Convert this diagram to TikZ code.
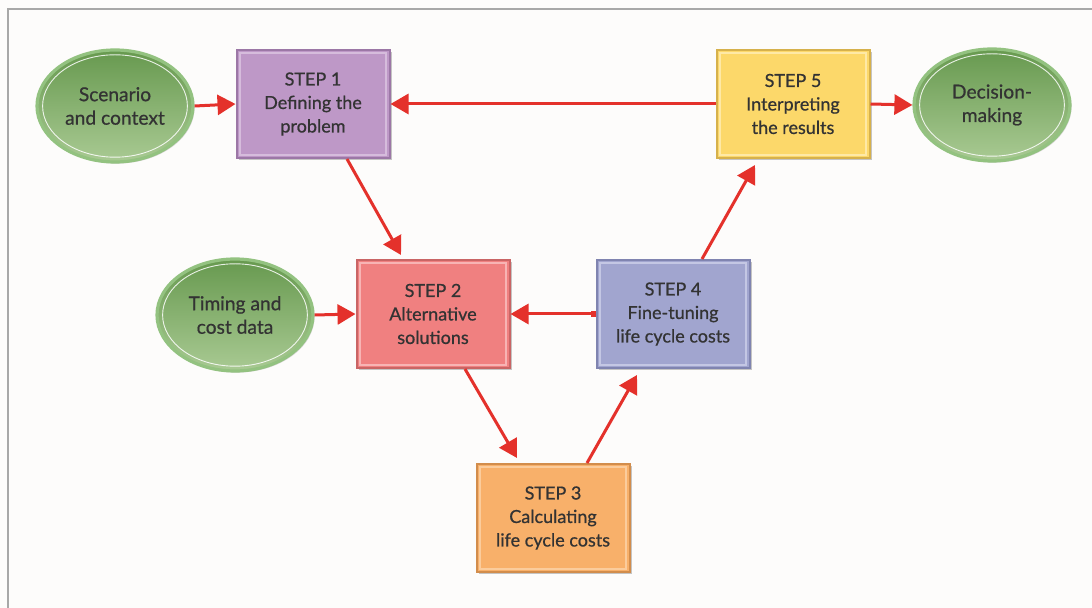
\documentclass[tikz,border=0pt]{standalone}
\usepackage{fontspec}
\setmainfont{Lato}
\newfontfamily\labelfont{Lato}[FakeBold=0.7]
\usetikzlibrary{arrows.meta,shadows,shapes.geometric}

\definecolor{paper}{HTML}{FDFCFB}
\definecolor{framegrey}{HTML}{A8A8A8}
\definecolor{textgrey}{HTML}{333333}
\definecolor{arrowred}{HTML}{E4312B}
% step box colours: fill, outer edge, inner highlight
\definecolor{purpfill}{HTML}{BE98C7}
\definecolor{purpedge}{HTML}{9C77A6}
\definecolor{purplite}{HTML}{D6BCDC}
\definecolor{yelfill}{HTML}{FCD86A}
\definecolor{yeledge}{HTML}{D6B14C}
\definecolor{yellite}{HTML}{FEE9A6}
\definecolor{redfill}{HTML}{F08080}
\definecolor{rededge}{HTML}{C96565}
\definecolor{redlite}{HTML}{F8B4B4}
\definecolor{bluefill}{HTML}{A1A5CF}
\definecolor{blueedge}{HTML}{8084B0}
\definecolor{bluelite}{HTML}{C4C7E4}
\definecolor{orgfill}{HTML}{F8B06A}
\definecolor{orgedge}{HTML}{D28D4C}
\definecolor{orglite}{HTML}{FBCC9C}
% oval colours
\definecolor{ovaltop}{HTML}{67994F}
\definecolor{ovalbot}{HTML}{A9CA93}
\definecolor{ovalrim}{HTML}{93C280}

\tikzset{
  labeltext/.style={align=center, text=textgrey},
  stepbox/.style n args={3}{rectangle, labeltext,
    font=\labelfont\fontsize{9pt}{11.75pt}\selectfont,
    execute at begin node={\rule{0pt}{11pt}},
    minimum width=76.5pt, minimum height=54pt, inner sep=0pt,
    fill=#1, draw=#2, line width=1pt,
    drop shadow={shadow xshift=1pt, shadow yshift=-1pt,
      fill=black, opacity=0.22},
    path picture={\draw[#3, line width=0.9pt]
      ([shift={(1.6pt,-1.6pt)}]path picture bounding box.north west)
      rectangle
      ([shift={(-1.6pt,1.6pt)}]path picture bounding box.south east);}},
  endoval/.style={ellipse, labeltext,
    font=\labelfont\fontsize{9.6pt}{11.75pt}\selectfont,
    execute at begin node={\rule{0pt}{11pt}},
    minimum width=78pt, minimum height=56pt, inner sep=0pt,
    top color=ovaltop, bottom color=ovalbot,
    draw=ovalrim, line width=1.6pt,
    drop shadow={shadow xshift=0.8pt, shadow yshift=-0.8pt,
      fill=black, opacity=0.15}},
  ovalglint/.style={draw=white, line width=0.45pt, opacity=0.85},
  flow/.style={draw=arrowred, line width=1.5pt,
    -{Triangle[length=9pt,width=10pt]}},
}

\begin{document}
\begin{tikzpicture}[x=0.5pt,y=-0.5pt]
  % page and frame
  \fill[paper] (0,0) rectangle (1092,608);
  \useasboundingbox (0,0) rectangle (1092,608);
  \draw[framegrey, line width=0.8pt] (8,608) -- (8,9) -- (1092,9);

  % ovals
  \node[endoval] (sc) at (115,106) {Scenario\\and context};
  \node[endoval] (dm) at (992,105) {Decision-\\making};
  \node[endoval] (tc) at (235,315) {Timing and\\cost data};
  \foreach \o in {sc,dm,tc}
    \draw[ovalglint] (\o.center) ellipse [x radius=36.2pt, y radius=25.6pt];

  % steps
  \node[stepbox={purpfill}{purpedge}{purplite}] (s1) at (313,104)
    {STEP 1\\Defining the\\problem};
  \node[stepbox={yelfill}{yeledge}{yellite}] (s5) at (793,104)
    {STEP 5\\Interpreting\\the results};
  \node[stepbox={redfill}{rededge}{redlite}] (s2) at (433,314)
    {STEP 2\\Alternative\\solutions};
  \node[stepbox={bluefill}{blueedge}{bluelite}] (s4) at (673,314)
    {STEP 4\\Fine-tuning\\life cycle costs};
  \node[stepbox={orgfill}{orgedge}{orglite}] (s3) at (553,518)
    {STEP 3\\Calculating\\life cycle costs};

  % connectors
  \draw[flow] (sc.east) -- (s1.west);
  \draw[flow] (s5.west) -- (s1.east);
  \draw[flow] (s5.east) -- (dm.west);
  \draw[flow] (tc.east) -- (s2.west);
  \draw[flow, {Square[length=2.5pt,width=3pt]}-{Triangle[length=9pt,width=10pt]}]
    (s4.west) -- (s2.east);
  \draw[flow] ([xshift=17pt]s1.south) -- ([xshift=-16pt,yshift=2pt]s2.north);
  \draw[flow] ([xshift=16pt]s2.south) -- ([xshift=-18pt,yshift=2.5pt]s3.north);
  \draw[flow] ([xshift=17pt]s3.north) -- ([xshift=-18pt,yshift=-3pt]s4.south);
  \draw[flow] ([xshift=14.5pt]s4.north) -- ([xshift=-19pt,yshift=-3pt]s5.south);
\end{tikzpicture}
\end{document}
